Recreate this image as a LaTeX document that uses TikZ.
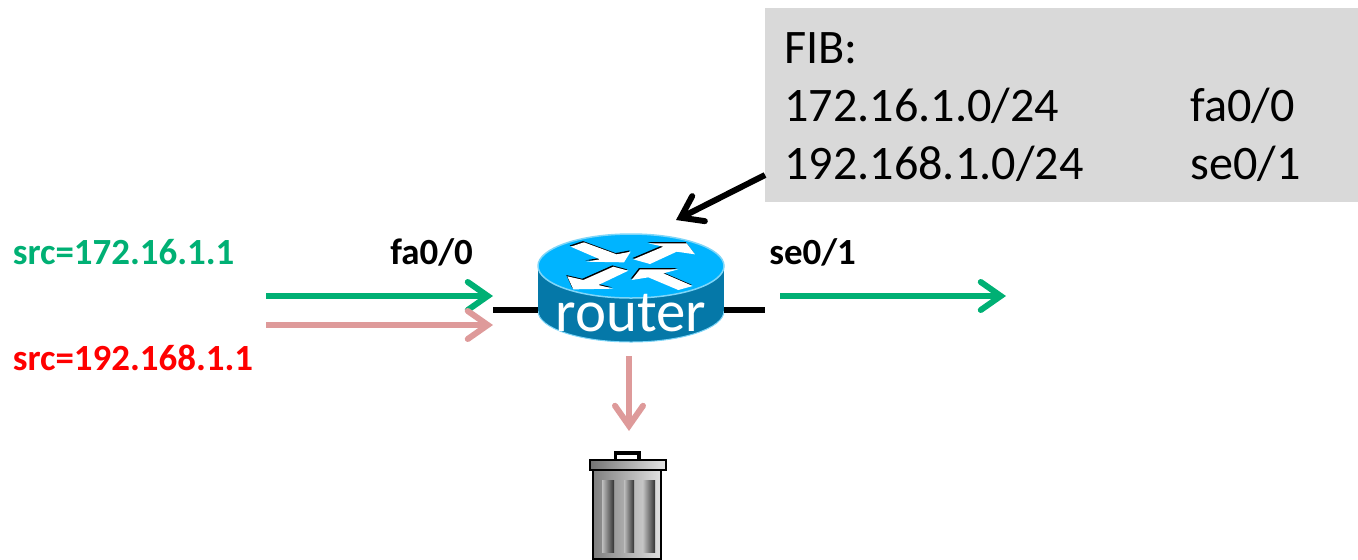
\documentclass[tikz,border=0pt]{standalone}
\usepackage{xcolor}
\usepackage{fontspec}
\setmainfont{Carlito}
\usetikzlibrary{arrows.meta}

\definecolor{flowgreen}{HTML}{00B074}
\definecolor{flowpink}{HTML}{DE9A9A}
\definecolor{fibgray}{HTML}{D9D9D9}
\definecolor{routertop}{HTML}{00B4FF}
\definecolor{routerside}{HTML}{0578A8}
\definecolor{routerrim}{HTML}{7FD6F8}

\tikzset{
  flow/.style={line width=0.12cm,-{Straight Barb[length=0.4cm,width=0.56cm,line width=0.12cm,line cap=round]}},
  flowlabel/.style={font=\fontsize{21}{21}\selectfont\bfseries,anchor=base west,inner sep=0pt},
  fibtext/.style={font=\fontsize{27.4}{27.4}\selectfont,anchor=base west,inner sep=0pt},
  zoomed/.style={x=0.00667cm,y=-0.00667cm},
  wire/.style={line width=0.11cm,black},
}

\begin{document}
\begin{tikzpicture}[x=0.02cm,y=-0.02cm]
\useasboundingbox (0,0) rectangle (1358,559);

\node [fill=fibgray,minimum width=11.86cm,minimum height=3.88cm,inner sep=0pt] (fib) at (1061.5,105) {};
\node [fibtext] (fibtitle) at (784,63) {FIB:};
\node [fibtext] (net1) at (784,121) {172.16.1.0/24};
\node [fibtext] (net2) at (784,179) {192.168.1.0/24};
\node [fibtext] (port1) at (1190,121) {fa0/0};
\node [fibtext] (port2) at (1190,179) {se0/1};

% router body
\fill [routerside] (538,266) rectangle (724,311);
\fill [routerside] (631,311) ellipse [x radius=93,y radius=31];
\draw [routerrim,line width=0.02cm] (538,311) arc [start angle=180,end angle=0,x radius=93,y radius=31];
\fill [routertop] (631,266) ellipse [x radius=93,y radius=32];
\draw [routerrim,line width=0.03cm] (631,266) ellipse [x radius=93,y radius=32];
\begin{scope}[shift={(480,200)},zoomed]
\foreach \pts in {
  {(272,140)--(312,127)--(410,163)--(452,155)--(432,187)--(318,185)--(360,178)--cycle},
  {(460,178)--(550,140)--(505,130)--(620,130)--(645,163)--(590,155)--(510,192)--cycle},
  {(262,229)--(310,240)--(400,200)--(445,212)--(355,255)--(400,266)--(280,268)--cycle},
  {(455,240)--(480,208)--(595,208)--(550,220)--(638,258)--(595,270)--(505,232)--cycle}}{
    \fill [black,xshift=-0.02cm,yshift=0.025cm] \pts;
    \fill [white] \pts;
}
\end{scope}
\node [text=white,font=\fontsize{33.5}{33.5}\selectfont,anchor=base,inner sep=0pt] (router) at (631,331) {router};
\node [minimum width=3.72cm,minimum height=2.16cm,inner sep=0pt] (routerbody) at (631,288) {};

\coordinate (wireleft) at (493,310);
\coordinate (wireright) at (765,310);
\draw [wire] (wireleft) -- (wireleft -| routerbody.west);
\draw [wire] (wireright -| routerbody.east) -- (wireright);

\node [flowlabel,text=flowgreen] (srcgreen) at (12.5,264.5) {src=172.16.1.1};
\node [flowlabel,text=red] (srcred) at (12.5,370) {src=192.168.1.1};
\node [flowlabel] (fa) at (390,264.5) {fa0/0};
\node [flowlabel] (se) at (769,264.5) {se0/1};

\coordinate (greenin) at (266,296);
\coordinate (greenend) at (493,296);
\coordinate (pinkin) at (266,325);
\coordinate (pinkend) at (493,325);
\coordinate (greenout) at (780,296);
\coordinate (greenoutend) at (1006,296);
\coordinate (pinkdown) at (629,356);
\coordinate (pinkdownend) at (629,431);
\coordinate (fibfoot) at (765,175);
\coordinate (fibtip) at (676,220);

\draw [flow,flowgreen] (greenin) -- (greenend);
\draw [flow,flowpink] (pinkin) -- (pinkend);
\draw [flow,flowgreen] (greenout) -- (greenoutend);
\draw [flow,flowpink] (pinkdown) -- (pinkdownend);
\draw [flow,black] (fibfoot) -- (fibtip);

% trash can
\begin{scope}[shift={(570,350)},zoomed]
\draw [line width=0.07cm] (136,328) -- (136,309) -- (207,309) -- (207,328);
\draw [line width=0.04cm,left color=black!50,right color=black!12] (70,360) rectangle (274,627);
\foreach \a/\b in {96/132,162/192,219/255}
    \fill [left color=black!25,right color=black!80] (\a,390) rectangle (\b,608);
\draw [line width=0.045cm,left color=black!55,right color=black!10] (60,330) rectangle (287,360);
\end{scope}

\end{tikzpicture}
\end{document}
